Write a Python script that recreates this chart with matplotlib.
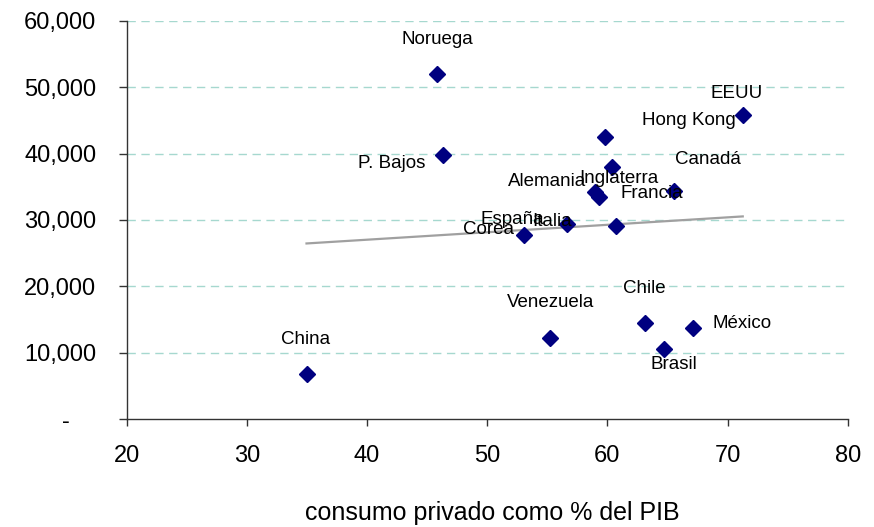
import numpy as np
import matplotlib
matplotlib.use("Agg")
import matplotlib.pyplot as plt
from matplotlib.ticker import FuncFormatter

plt.rcParams['font.family'] = ['Liberation Sans', 'DejaVu Sans']

# consumo privado (% del PIB) vs PIB per capita
paises = ['China', 'Noruega', 'P. Bajos', 'Corea', 'Venezuela', 'España',
          'Alemania', 'Francia', 'Hong Kong', 'Canadá', 'Italia', 'Chile',
          'Brasil', 'Inglaterra', 'México', 'EEUU']
consumo = [34.96, 45.82, 46.35, 53.03, 55.25, 56.63,
           58.98, 59.26, 59.82, 60.37, 60.73, 63.14,
           64.72, 65.5, 67.08, 71.26]
pib_pc = [6780, 52000, 39800, 27700, 12260, 29400,
          34270, 33500, 42560, 38000, 29100, 14420,
          10550, 34400, 13670, 45830]

# label offsets in points (dx, dy)
offsets = {
    'China': (-0.5, 25), 'Noruega': (0.5, 25), 'P. Bajos': (-37.4, -6),
    'Corea': (-25.2, 3.8), 'Venezuela': (0, 25), 'España': (-39.2, 2.9),
    'Alemania': (-34.3, 7.2), 'Francia': (38.5, 2.7), 'Hong Kong': (60, 11.3),
    'Canadá': (68.9, 5), 'Italia': (-45.9, 3.1), 'Chile': (-0.5, 24.8),
    'Brasil': (6.7, -10.8), 'Inglaterra': (-39, 9.2), 'México': (35.9, 3.8),
    'EEUU': (-4.5, 15.8),
}

fig = plt.figure(figsize=(8.74, 5.27), dpi=100)
ax = fig.add_axes([0.145, 0.2049, 0.825, 0.7553])

x = np.array(consumo)
y = np.array(pib_pc)

# trend line (least squares) across the range of the data
m, b = np.polyfit(x, y, 1)
xt = np.array([x.min(), x.max()])
ax.plot(xt, m * xt + b, color='#a0a0a0', lw=1.6, zorder=2)

ax.plot(x, y, 'D', color='#000080', ms=8.2, mec='#000080', zorder=3)

for name, xi, yi in zip(paises, x, y):
    dx, dy = offsets[name]
    ax.annotate(name, (xi, yi), xytext=(dx, dy), textcoords='offset points',
                ha='center', va='center', fontsize=13.5, color='black', zorder=4)

ax.set_xlim(20, 80)
ax.set_ylim(0, 60000)
ax.set_xticks(range(20, 81, 10))
ax.set_yticks(range(0, 60001, 10000))
ax.yaxis.set_major_formatter(FuncFormatter(
    lambda v, p: '-    ' if v == 0 else f'{v:,.0f}'))

for yv in range(10000, 60001, 10000):
    ax.axhline(yv, color='#a6d8cf', lw=1, ls=(0, (6, 4)), zorder=1)

for s in ['top', 'right']:
    ax.spines[s].set_visible(False)
for s in ['left', 'bottom']:
    ax.spines[s].set_color('#333333')
    ax.spines[s].set_linewidth(1)

ax.tick_params(axis='y', direction='out', length=6, width=1, color='#333333',
               labelsize=17, pad=16)
ax.tick_params(axis='x', direction='out', length=5, width=1, color='#333333',
               labelsize=17, pad=14)

ax.set_xlabel('consumo privado como % del PIB', fontsize=18, va='center')
ax.xaxis.set_label_coords(0.5065, -0.236)

fig.savefig('out.png', dpi=100)
